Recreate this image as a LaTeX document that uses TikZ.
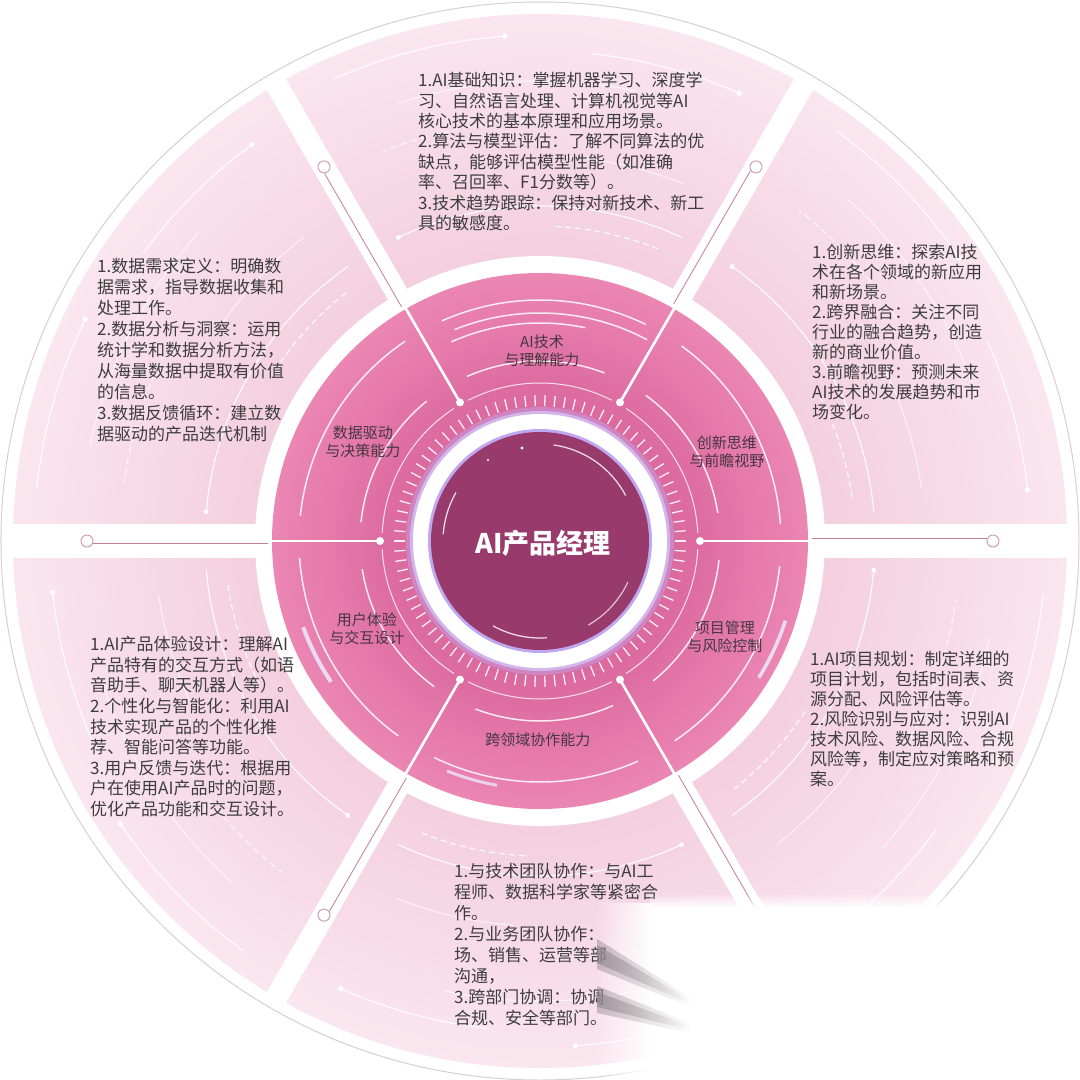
\documentclass[tikz,border=0pt]{standalone}
\usepackage{fontspec}
\newfontfamily\cjk{Noto Sans CJK SC}
\usetikzlibrary{fadings,calc}
\definecolor{panelIn}{HTML}{F4CFDF}
\definecolor{panelOut}{HTML}{FAE6EE}
\definecolor{midA}{HTML}{D05A92}
\definecolor{midB}{HTML}{DD6CA0}
\definecolor{midC}{HTML}{E57AAB}
\definecolor{midD}{HTML}{EB86B3}
\definecolor{core}{HTML}{983B6C}
\definecolor{lav}{HTML}{C0A8F0}
\definecolor{mauve}{HTML}{B0607F}
\definecolor{txt}{HTML}{3D3D3D}
\definecolor{lbl}{HTML}{45363F}
\definecolor{rim}{HTML}{D8CED3}
\definecolor{smear}{HTML}{8C8488}
\pgfdeclareradialshading{panelshade}{\pgfpoint{0bp}{0bp}}{color(0bp)=(panelIn); color(13.5bp)=(panelIn); color(25bp)=(panelOut); color(50bp)=(panelOut)}
\pgfdeclareradialshading{midshade}{\pgfpoint{0bp}{0bp}}{color(0bp)=(midA); color(14.5bp)=(midB); color(20bp)=(midC); color(25bp)=(midD); color(50bp)=(midD)}
\tikzfading[name=fadeR, left color=transparent!100, right color=transparent!0]
\tikzfading[name=fadeD, top color=transparent!100, bottom color=transparent!0]
\tikzfading[name=fadeL, left color=transparent!0, right color=transparent!100]
\tikzset{
  desc/.style={anchor=north west, align=left, inner sep=0pt, text=txt, font=\cjk\fontsize{17}{20.4}\selectfont},
  lab/.style={align=center, inner sep=0pt, text=lbl, font=\cjk\fontsize{15}{18.5}\selectfont},
  deco/.style={white, line width=1.2pt, opacity=0.85},
  mdeco/.style={white, line width=1.5pt, opacity=0.85},
  gapline/.style={white, line width=22pt},
  conn/.style={white, line width=2.6pt},
  connedge/.style={mauve, line width=0.8pt, opacity=0.8},
  ringend/.style={draw=mauve!60, line width=1pt, fill=white},
  dotend/.style={fill=white}
}
\begin{document}
\begin{tikzpicture}[x=1pt,y=1pt]
\useasboundingbox (-540,-539) rectangle (540,541);
\fill[white] (-540,-539) rectangle (540,541);

% outer panels
\shade[shading=panelshade] (0,0) circle (527);
\foreach \c in {90,30,-30,-90,-150,150}{
  \draw[deco] (\c+4:506) arc[start angle=\c+4, end angle=\c+24, radius=506];
  \fill[white] (\c+4:506) circle (2.6);
  \draw[deco] (\c-24:490) arc[start angle=\c-24, end angle=\c-6, radius=490];
  \fill[white] (\c-24:490) circle (2.6);
  \draw[deco, opacity=0.6] (\c-12:460) arc[start angle=\c-12, end angle=\c+18, radius=460];
  \draw[deco, dash pattern=on 7pt off 4pt, opacity=0.7] (\c+2:420) arc[start angle=\c+2, end angle=\c+22, radius=420];
  \draw[deco, opacity=0.6] (\c-22:385) arc[start angle=\c-22, end angle=\c-4, radius=385];
  \draw[deco] (\c-25:335) arc[start angle=\c-25, end angle=\c+25, radius=335];
  \fill[white] (\c+25:335) circle (2.4);
  \draw[deco, dash pattern=on 6pt off 4pt] (\c-22:315) arc[start angle=\c-22, end angle=\c-2, radius=315];
}
% gaps between panels
\foreach \a in {60,120,240,300}{ \draw[gapline] (0,0) -- (\a:560); }
\draw[white, line width=34pt] (-560,0) -- (560,0);
\fill[white] (0,0) circle (285);

% middle ring
\shade[shading=midshade] (0,0) circle (268);
\foreach \c in {90,30,-30,-90,-150,150}{
  \draw[mdeco] (\c-26:241) arc[start angle=\c-26, end angle=\c+24, radius=241];
  \draw[mdeco] (\c-21:180) arc[start angle=\c-21, end angle=\c+24, radius=180];
  \draw[white, line width=1pt, opacity=0.8] (\c-27:158) arc[start angle=\c-27, end angle=\c+27, radius=158];
}
\draw[mdeco] (62:228) arc[start angle=62, end angle=112, radius=228];
\draw[mdeco] (78:218) arc[start angle=78, end angle=114, radius=218];
\draw[white!70!lav, line width=4pt, opacity=0.9] (200:252) arc[start angle=200, end angle=214, radius=252];
\draw[white!70!lav, line width=3.5pt, opacity=0.9] (-32:258) arc[start angle=-32, end angle=-18, radius=258];
\draw[white!70!lav, line width=3pt, opacity=0.8] (-100:248) arc[start angle=-100, end angle=-112, radius=248];

% connectors along the dividers
\foreach \a/\r in {0/453,60/432,120/432,180/453,240/432,300/432}{
  \coordinate (dI\a) at (\a:160);
  \coordinate (dO\a) at (\a:\r);
  \coordinate (eI\a) at ($(\a:272)+(\a+90:2.8)$);
  \coordinate (eO\a) at ($(\a:\r-6)+(\a+90:2.8)$);
  \draw[conn] (dI\a) -- (dO\a);
  \draw[connedge] (eI\a) -- (eO\a);
  \draw[ringend] (dO\a) circle (6);
  \fill[dotend] (dI\a) circle (4);
}

% tick ring
\foreach \t in {0,4,...,356}{ \draw[white, line width=1.3pt, opacity=0.9] (\t:135) -- (\t:146); }

% glowing ring and core
\fill[lav, opacity=0.45] (0,0) circle (134);
\fill[lav!70!white, opacity=0.8] (0,0) circle (130);
\fill[white] (0,0) circle (127);
\fill[lav] (0,0) circle (112);
\fill[core] (0,0) circle (109);
\draw[white, line width=1.2pt, opacity=0.85] (28:97) arc[start angle=28, end angle=82, radius=97];
\draw[white, line width=1.2pt, opacity=0.85] (150:97) arc[start angle=150, end angle=176, radius=97];
\draw[white, line width=1.2pt, opacity=0.85] (241:97) arc[start angle=241, end angle=274, radius=97];
\draw[white, line width=1.2pt, opacity=0.7] (300:97) arc[start angle=300, end angle=335, radius=97];
\fill[white] (-18,93) circle (1.6);
\fill[white] (-52,81) circle (1.2);

\node[font=\cjk\bfseries\fontsize{27}{30}\selectfont, text=white] (core) at (3,-2) {AI产品经理};

% outer rim
\draw[rim, line width=1pt] (0,0) circle (539);

% sector labels
\node[lab] (l1) at (2,190) {AI技术\\与理解能力};
\node[lab] (l2) at (187,89) {创新思维\\与前瞻视野};
\node[lab] (l3) at (185,-96) {项目管理\\与风险控制};
\node[lab] (l4) at (-2,-199) {跨领域协作能力};
\node[lab] (l5) at (-173,-88) {用户体验\\与交互设计};
\node[lab] (l6) at (-177,99) {数据驱动\\与决策能力};

% descriptions
\node[desc] (t1) at (-122,469) {1.AI基础知识：掌握机器学习、深度学\\习、自然语言处理、计算机视觉等AI\\核心技术的基本原理和应用场景。\\2.算法与模型评估：了解不同算法的优\\缺点，能够评估模型性能（如准确\\率、召回率、F1分数等）。\\3.技术趋势跟踪：保持对新技术、新工\\具的敏感度。};
\node[desc, font=\cjk\fontsize{17}{21}\selectfont] (t6) at (-443,283) {1.数据需求定义：明确数\\据需求，指导数据收集和\\处理工作。\\2.数据分析与洞察：运用\\统计学和数据分析方法，\\从海量数据中提取有价值\\的信息。\\3.数据反馈循环：建立数\\据驱动的产品迭代机制};
\node[desc, font=\cjk\fontsize{17}{20}\selectfont] (t2) at (272,297) {1.创新思维：探索AI技\\术在各个领域的新应用\\和新场景。\\2.跨界融合：关注不同\\行业的融合趋势，创造\\新的商业价值。\\3.前瞻视野：预测未来\\AI技术的发展趋势和市\\场变化。};
\node[desc, font=\cjk\fontsize{17}{20.6}\selectfont] (t5) at (-450,-95) {1.AI产品体验设计：理解AI\\产品特有的交互方式（如语\\音助手、聊天机器人等）。\\2.个性化与智能化：利用AI\\技术实现产品的个性化推\\荐、智能问答等功能。\\3.用户反馈与迭代：根据用\\户在使用AI产品时的问题，\\优化产品功能和交互设计。};
\node[desc, font=\cjk\fontsize{17}{20}\selectfont] (t3) at (270,-110) {1.AI项目规划：制定详细的\\项目计划，包括时间表、资\\源分配、风险评估等。\\2.风险识别与应对：识别AI\\技术风险、数据风险、合规\\风险等，制定应对策略和预\\案。};
\node[desc, font=\cjk\fontsize{17}{21}\selectfont] (t4) at (-86,-322) {1.与技术团队协作：与AI工\\程师、数据科学家等紧密合\\作。\\2.与业务团队协作：\\场、销售、运营等部\\沟通，\\3.跨部门协调：协调\\合规、安全等部门。};

% white fade over the lower right
\fill[white, path fading=fadeR] (55,-362) rectangle (112,-545);
\fill[white] (110,-366) rectangle (545,-545);
\fill[white, path fading=fadeD] (110,-352) rectangle (545,-367);
\fill[smear, opacity=0.45, path fading=fadeL] (57,-398) -- (150,-456) -- (150,-466) -- (57,-428) -- cycle;
\fill[smear, opacity=0.6, path fading=fadeL] (57,-404) -- (150,-459) -- (150,-463) -- (57,-422) -- cycle;
\fill[smear, opacity=0.45, path fading=fadeL] (57,-445) -- (150,-482) -- (150,-492) -- (57,-472) -- cycle;
\fill[smear, opacity=0.6, path fading=fadeL] (57,-451) -- (150,-485) -- (150,-489) -- (57,-466) -- cycle;
\end{tikzpicture}
\end{document}
